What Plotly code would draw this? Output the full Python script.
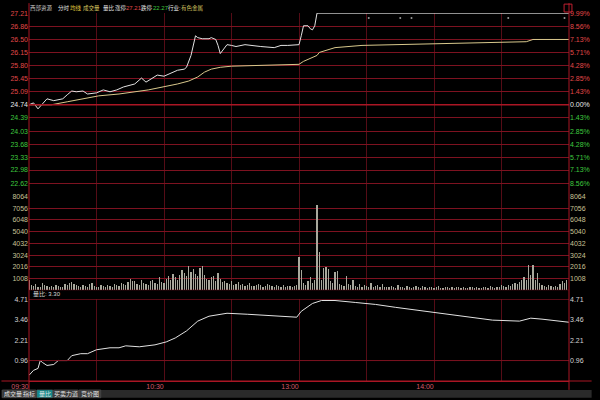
import plotly.graph_objects as go

# ---------------- data (minutes since 09:30, trading time; 120 = 11:30/13:00) -------------
price_min = [0, 2, 4, 7, 8, 11, 15, 17, 19, 21, 24, 26, 30, 33, 36, 39, 42, 47, 50, 52, 54, 57,
             60, 63, 66, 69, 70, 72, 73, 74, 75, 77, 80, 81, 83, 84, 85, 87, 88, 90, 92, 96, 98,
             103, 109, 112, 115, 118, 120, 121, 122, 124, 125, 126, 127, 128, 240]
price_val = [24.74, 24.79, 24.63, 24.82, 24.90, 24.85, 24.90, 25.01, 25.11, 25.09, 25.11, 25.03,
             25.06, 25.14, 25.09, 25.14, 25.22, 25.30, 25.46, 25.35, 25.43, 25.54, 25.51, 25.59,
             25.67, 25.70, 25.75, 26.07, 26.35, 26.60, 26.55, 26.52, 26.52, 26.55, 26.50, 26.34,
             26.12, 26.28, 26.36, 26.34, 26.31, 26.36, 26.34, 26.31, 26.28, 26.34, 26.34, 26.36,
             26.36, 26.60, 26.87, 26.87, 26.79, 26.76, 26.87, 27.21, 27.21]

avg_min = [0, 10, 17, 24, 31, 40, 53, 66, 71, 75, 78, 81, 85, 90, 106, 120, 122, 128, 129, 136,
           148, 163, 192, 221, 224, 240]
avg_val = [24.74, 24.74, 24.82, 24.90, 24.98, 25.03, 25.14, 25.30, 25.38, 25.49, 25.62, 25.70,
           25.75, 25.78, 25.80, 25.83, 25.91, 26.07, 26.15, 26.28, 26.34, 26.36, 26.39, 26.44,
           26.50, 26.50]

mark_min = [151, 165, 170, 213, 238]
mark_val = [27.08, 27.08, 27.08, 27.08, 27.08]

volume = [
    900, 450, 380, 520, 300, 260, 610, 420, 350, 280, 330, 240, 470, 390, 260, 310, 550, 480, 620, 700,
    520, 410, 380, 300, 460, 350, 280, 540, 620, 390, 300, 270, 480, 360, 300, 420, 350, 290, 510, 440,
    380, 620, 540, 450, 700, 980, 760, 820, 560, 430, 900, 650, 500, 420, 760, 880, 620, 540, 1100, 720,
    650, 980, 1200, 860, 1400, 1100, 900, 1300, 1700, 1500, 1250, 2100, 1600, 1800, 1400, 1200, 1900, 2050, 1300, 1000,
    900, 1100, 1250, 800, 1500, 950, 700, 820, 600, 540, 760, 480, 520, 690, 430, 560, 380, 450, 620, 400,
    350, 480, 560, 420, 300, 380, 520, 460, 340, 280, 420, 360, 300, 480, 260, 330, 400, 290, 350, 450,
    2900, 1700, 600, 450, 800, 1100, 650, 900, 7350, 3250, 900, 1880, 1960, 1800, 770, 600, 1540, 1620, 500, 450,
    380, 1200, 560, 420, 900, 350, 300, 500, 260, 420, 380, 300, 600, 250, 340, 420, 280, 500, 320, 260,
    240, 380, 300, 200, 450, 320, 260, 180, 350, 280, 220, 300, 400, 260, 200, 330, 250, 180, 300, 240,
    200, 280, 350, 220, 180, 260, 300, 200, 240, 180, 320, 260, 200, 280, 220, 180, 250, 300, 200, 260,
    220, 180, 300, 250, 200, 340, 280, 220, 260, 300, 420, 350, 280, 480, 400, 550, 650, 500, 700, 900,
    1100, 850, 2200, 1300, 2150, 900, 1500, 600, 450, 380, 300, 420, 350, 280, 400, 320, 500, 800, 600, 900,
]
vol_min = list(range(len(volume)))

ratio_min = [0, 2, 4, 5, 6, 8, 11, 13, 17, 19, 23, 26, 30, 36, 40, 43, 49, 56, 61, 65, 70, 75,
             80, 88, 97, 110, 119, 121, 126, 130, 136, 145, 154, 163, 177, 192, 206, 218, 223,
             228, 240]
ratio_val = [0.06, 0.36, 0.48, 0.96, 0.84, 0.66, 0.72, 0.96, 0.96, 1.26, 1.38, 1.38, 1.62, 1.74,
             1.74, 1.86, 1.80, 1.92, 2.10, 2.34, 2.77, 3.37, 3.67, 3.85, 3.79, 3.67, 3.61, 3.97,
             4.45, 4.63, 4.63, 4.51, 4.39, 4.21, 3.97, 3.67, 3.43, 3.37, 3.55, 3.49, 3.30]

price_ticks = ["27.21", "26.86", "26.50", "26.15", "25.80", "25.45", "25.09", "24.74",
               "24.39", "24.03", "23.68", "23.33", "22.98", "22.62"]
pct_ticks = ["9.99%", "8.56%", "7.13%", "5.71%", "4.28%", "2.85%", "1.43%", "0.00%",
             "1.43%", "2.85%", "4.28%", "5.71%", "7.13%", "8.56%"]
vol_ticks = ["8064", "7056", "6048", "5040", "4032", "3024", "2016", "1008"]
ratio_ticks = ["4.71", "3.46", "2.21", "0.96"]
time_vals = [0, 30, 60, 90, 120, 150, 180, 210, 240]
time_text = ["09:30", "", "10:30", "", "13:00", "", "14:00", "", ""]

prev_close = 24.74
limit_up, limit_down = 27.21, 22.27

# ---------------- styling ----------------
RED_T = "#e04848"
GRN_T = "#3fc83f"
WHITE_T = "#e8e8e8"
VOL_T = "#c8c096"
GRID_H = "rgb(125,18,32)"
GRID_V = "rgb(85,12,22)"
BORDER = "rgb(170,22,36)"
FONT = "Liberation Sans, Noto Sans CJK SC, sans-serif"
FS = 7
FS_CJK = 5.5


def colored(labels, ref):
    out = []
    for s in labels:
        v = float(s)
        c = RED_T if v > ref else (GRN_T if v < ref else WHITE_T)
        out.append(f"<span style='color:{c}'>{s}</span>")
    return out


pct_colored = []
for s, p in zip(pct_ticks, price_ticks):
    v = float(p)
    c = RED_T if v > prev_close else (GRN_T if v < prev_close else WHITE_T)
    pct_colored.append(f"<span style='color:{c}'>{s}</span>")

W, H = 600, 400
L, R, T, B = 28, 23, 10, 17
PW, PH = W - L - R, H - T - B


def pxx(p):
    return (p - L) / PW


def pxy(p):
    return (H - B - p) / PH


fig = go.Figure()

fig.add_trace(go.Bar(x=vol_min, y=volume, width=0.46, marker=dict(color="#a8a89c", line=dict(width=0)),
                     xaxis="x", yaxis="y2", hoverinfo="skip"))
fig.add_trace(go.Scatter(x=price_min, y=price_val, mode="lines", line=dict(color="#e2e2e2", width=1),
                         xaxis="x", yaxis="y", hoverinfo="skip"))
fig.add_trace(go.Scatter(x=avg_min, y=avg_val, mode="lines", line=dict(color="#d8c88c", width=1),
                         xaxis="x", yaxis="y4", hoverinfo="skip"))
fig.add_trace(go.Scatter(x=mark_min, y=mark_val, mode="markers", marker=dict(color="#9a9a9a", size=2),
                         xaxis="x", yaxis="y4", hoverinfo="skip"))
fig.add_trace(go.Scatter(x=ratio_min, y=ratio_val, mode="lines", line=dict(color="#e2e2e2", width=1),
                         xaxis="x", yaxis="y3", hoverinfo="skip"))
# invisible helpers so right-side axes render
fig.add_trace(go.Scatter(x=vol_min[:1], y=volume[:1], mode="markers", marker=dict(opacity=0),
                         xaxis="x", yaxis="y5", hoverinfo="skip"))
fig.add_trace(go.Scatter(x=ratio_min[-1:], y=ratio_val[-1:], mode="markers", marker=dict(opacity=0),
                         xaxis="x", yaxis="y6", hoverinfo="skip"))

price_dom = [pxy(196), 1]
vol_dom = [pxy(291), pxy(196)]
ratio_dom = [0, pxy(300)]
prange = [limit_down - 0.004, limit_up + 0.004]
vrange = [0, 8064 * 1.0006]
rrange = [-0.29, 4.715]

common_y = dict(tickfont=dict(size=FS, family=FONT), ticks="", zeroline=False, showline=False,
                fixedrange=True)

fig.update_layout(
    width=W, height=H, margin=dict(l=L, r=R, t=T, b=B),
    paper_bgcolor="black", plot_bgcolor="black", showlegend=False, bargap=0,
    font=dict(family=FONT, size=FS, color=WHITE_T),
    xaxis=dict(range=[0, 240], domain=[0, 1], anchor="y3", tickvals=time_vals, ticktext=time_text,
               showgrid=True, gridcolor=GRID_V, gridwidth=1, showline=True, linecolor=BORDER,
               ticks="", zeroline=False, tickfont=dict(size=FS, color="#d05a6a", family=FONT),
               ticklabelshift=-9, ticklabelstandoff=-1, fixedrange=True),
    yaxis=dict(domain=price_dom, range=prange, tickvals=[float(s) for s in price_ticks],
               ticktext=colored(price_ticks, prev_close), showgrid=True, gridcolor=GRID_H,
               anchor="x", **common_y),
    yaxis4=dict(overlaying="y", side="right", range=prange, tickvals=[float(s) for s in price_ticks],
                ticktext=pct_colored, showgrid=False, anchor="x", **common_y),
    yaxis2=dict(domain=vol_dom, range=vrange, tickvals=[float(s) for s in vol_ticks],
                ticktext=vol_ticks, showgrid=True, gridcolor=GRID_H, anchor="x",
                **{**common_y, "tickfont": dict(size=FS, family=FONT, color=VOL_T)}),
    yaxis5=dict(overlaying="y2", side="right", range=vrange, tickvals=[float(s) for s in vol_ticks],
                ticktext=vol_ticks, showgrid=False, anchor="x",
                **{**common_y, "tickfont": dict(size=FS, family=FONT, color=VOL_T)}),
    yaxis3=dict(domain=ratio_dom, range=rrange, tickvals=[float(s) for s in ratio_ticks],
                ticktext=ratio_ticks, showgrid=False, anchor="x",
                **{**common_y, "tickfont": dict(size=FS, family=FONT, color="#d2d2d2")}),
    yaxis6=dict(overlaying="y3", side="right", range=rrange, tickvals=[float(s) for s in ratio_ticks],
                ticktext=ratio_ticks, showgrid=False, anchor="x",
                **{**common_y, "tickfont": dict(size=FS, family=FONT, color="#d2d2d2")}),
)

shapes = []
# volume zero line
shapes.append(dict(type="line", xref="paper", yref="y2", x0=0, x1=1, y0=0, y1=0,
                   line=dict(color=GRID_H, width=1)))
# ratio panel lines
for v in (4.71, 0.96):
    shapes.append(dict(type="line", xref="paper", yref="y3", x0=0, x1=1, y0=v, y1=v,
                       line=dict(color=GRID_H, width=1)))
# previous close line emphasised
shapes.append(dict(type="line", xref="paper", yref="y", x0=0, x1=1, y0=prev_close, y1=prev_close,
                   line=dict(color="rgb(170,22,36)", width=1.3)))
# borders
for xp in (0, 1):
    shapes.append(dict(type="line", xref="paper", yref="paper", x0=xp, x1=xp, y0=pxy(392), y1=pxy(0),
                       line=dict(color=BORDER, width=1)))
shapes.append(dict(type="line", xref="paper", yref="paper", x0=pxx(0), x1=pxx(600), y0=0, y1=0,
                   line=dict(color=BORDER, width=1)))
# bottom tab bar
shapes.append(dict(type="rect", xref="paper", yref="paper", x0=pxx(0), x1=pxx(600), y0=pxy(400),
                   y1=pxy(392), fillcolor="#2a2a2a", line=dict(width=0), layer="above"))
tabs = [("成交量", 1, 22, "#3a3a3a"), ("指标", 22, 35, "#3a3a3a"), ("量比", 36, 52, "#168a8c"),
        ("买卖力道", 53, 78, "#3a3a3a"), ("竞价图", 79, 101, "#3a3a3a")]
annotations = []
for name, a, b, col in tabs:
    shapes.append(dict(type="rect", xref="paper", yref="paper", x0=pxx(a), x1=pxx(b), y0=pxy(400),
                       y1=pxy(392), fillcolor=col, line=dict(color="#555555", width=0.5), layer="above"))
    annotations.append(dict(xref="paper", yref="paper", x=pxx((a + b) / 2), y=pxy(396), text=name,
                            showarrow=False, xanchor="center", yanchor="middle",
                            font=dict(size=6, color="#e6e6e6", family=FONT)))
# small red box top right
shapes.append(dict(type="rect", xref="paper", yref="paper", x0=pxx(572), x1=pxx(580), y0=pxy(9),
                   y1=pxy(1), line=dict(color="#c02030", width=1), fillcolor="rgba(0,0,0,0)"))

# title bar
title_items = [("西部资源", 28, "#c8c8c8", FS_CJK), ("分时", 56, "#e8e8e8", FS_CJK),
               ("均线", 69, "#e8d040", FS_CJK), ("成交量", 82, "#d8c860", FS_CJK),
               ("量比", 102, "#e8e8e8", FS_CJK), ("涨停", 114, "#e8e8e8", FS_CJK),
               (f"{limit_up:.2f}", 126, RED_T, 6), ("跌停", 141, "#e8e8e8", FS_CJK),
               (f"{limit_down:.2f}", 153, GRN_T, 6), ("行业:", 168, "#e8e8e8", FS_CJK),
               ("有色金属", 182, "#d8c860", FS_CJK)]
for txt, xp, col, fs in title_items:
    annotations.append(dict(xref="paper", yref="paper", x=pxx(xp), y=pxy(5), text=txt, showarrow=False,
                            xanchor="left", yanchor="middle", borderpad=0,
                            font=dict(size=fs, color=col, family=FONT)))
annotations.append(dict(xref="paper", yref="paper", x=pxx(30), y=pxy(295),
                        text=f"量比: {ratio_val[-1]:.2f}", showarrow=False, xanchor="left",
                        yanchor="middle", font=dict(size=6, color="#d8d8d8", family=FONT)))

fig.update_layout(shapes=shapes, annotations=annotations)
fig.write_html("out.html", config={"displayModeBar": False, "staticPlot": True},
               post_script="document.body.style.margin='0';document.body.style.overflow='hidden';")
